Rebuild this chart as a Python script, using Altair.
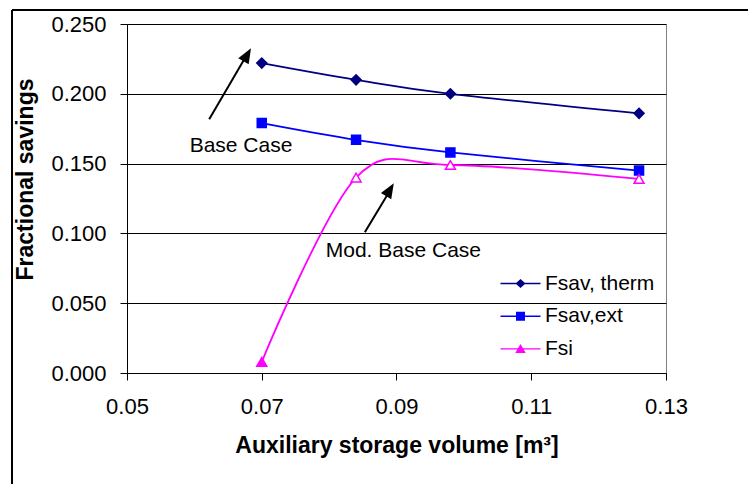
import altair as alt
import pandas as pd

# ---- data ----
x_vals = [0.07, 0.084, 0.098, 0.126]
fsav_therm = [0.222, 0.210, 0.200, 0.186]
fsav_ext = [0.179, 0.167, 0.158, 0.145]
fsi = [0.008, 0.140, 0.149, 0.139]
fsi_filled = [True, False, False, False]

series_names = ["Fsav, therm", "Fsav,ext", "Fsi"]
series_colors = ["#000080", "#0000FF", "#FF00FF"]
marker_shapes = ["diamond", "square", "triangle-up"]
marker_sizes = [100, 81, 100]

x_ticks = [0.05, 0.07, 0.09, 0.11, 0.13]
y_ticks = [0.0, 0.05, 0.10, 0.15, 0.20, 0.25]

ann_text = ["Base Case", "Mod. Base Case"]
ann_x = [0.0593, 0.0795]
ann_y = [0.1585, 0.0833]

arrow_tail_x = [0.0622, 0.0853]
arrow_tail_y = [0.1817, 0.1008]
arrow_shaft_end_x = [0.0676, 0.0889]
arrow_shaft_end_y = [0.2264, 0.1297]
arrow_tip_x = [0.0684, 0.0896]
arrow_tip_y = [0.2326, 0.1359]
arrow_angle = [30, 31]

FONT = "Liberation Sans"

# legend symbols: a line segment with the marker on it
legend_line = "M-2,-0.07L2,-0.07L2,0.07L-2,0.07Z"
legend_paths = [
    legend_line + "M-0.5,0L0,-0.45L0.5,0L0,0.45Z",
    legend_line + "M-0.45,-0.45L0.45,-0.45L0.45,0.45L-0.45,0.45Z",
    legend_line + "M0,-0.5L0.52,0.42L-0.52,0.42Z",
]
arrow_head_path = "M0,0L0.8,2L-0.8,2Z"

x_enc = alt.X(
    "x:Q",
    scale=alt.Scale(domain=[0.05, 0.13], nice=False, zero=False),
    axis=alt.Axis(
        values=x_ticks, format=".2f", title="Auxiliary storage volume [m³]",
        grid=False, tickSize=7, labelPadding=16, labelFlush=False,
        titleBaseline="alphabetic", titleX=269.5, titleY=79.5,
    ),
)
y_enc = alt.Y(
    "y:Q",
    scale=alt.Scale(domain=[0, 0.25], nice=False),
    axis=alt.Axis(
        values=y_ticks, format=".3f", title="Fractional savings",
        grid=True, gridColor="#000000", gridWidth=1, tickSize=7, labelPadding=14,
        labelFlush=False,
        titleAngle=270, titleBaseline="alphabetic", titleAlign="center",
        titleX=-95, titleY=155,
    ),
)

series_values = [fsav_therm, fsav_ext, fsi]
series_filled = [[True] * 4, [True] * 4, fsi_filled]

layers = []

# outer chart frame (decoration, pixel positions)
frame_df = pd.DataFrame({"k": [0]})
layers.append(
    alt.Chart(frame_df).mark_rule(color="#000000", strokeWidth=2).encode(
        x=alt.value(-115), y=alt.value(-14), y2=alt.value(480)
    )
)
layers.append(
    alt.Chart(frame_df).mark_rule(color="#000000", strokeWidth=2).encode(
        x=alt.value(-115), x2=alt.value(700), y=alt.value(-14)
    )
)

for name, vals, col, shp, sz, filled in zip(
    series_names, series_values, series_colors, marker_shapes, marker_sizes, series_filled
):
    df = pd.DataFrame({"x": x_vals, "y": vals, "series": name, "filled": filled})
    layers.append(
        alt.Chart(df).mark_line(color=col, strokeWidth=1.8, interpolate="cardinal").encode(
            x=x_enc, y=y_enc
        )
    )
    layers.append(
        alt.Chart(df).transform_filter("datum.filled").mark_point(
            shape=shp, size=sz, stroke=col, fill=col, strokeWidth=1.5, opacity=1, filled=True
        ).encode(x=x_enc, y=y_enc)
    )
    if not all(filled):
        layers.append(
            alt.Chart(df).transform_filter("!datum.filled").mark_point(
                shape=shp, size=sz, stroke=col, fill="#FFFFFF", strokeWidth=1.5, opacity=1,
                filled=True
            ).encode(x=x_enc, y=y_enc)
        )

# arrows
arr_df = pd.DataFrame({
    "x": arrow_tail_x, "y": arrow_tail_y,
    "x2": arrow_shaft_end_x, "y2": arrow_shaft_end_y,
})
layers.append(
    alt.Chart(arr_df).mark_rule(color="#000000", strokeWidth=2).encode(
        x=x_enc, y=y_enc, x2="x2:Q", y2="y2:Q"
    )
)
head_df = pd.DataFrame({"x": arrow_tip_x, "y": arrow_tip_y, "ang": arrow_angle})
layers.append(
    alt.Chart(head_df).mark_point(shape=arrow_head_path, size=225, filled=True,
                                  color="#000000", opacity=1, strokeWidth=0).encode(
        x=x_enc, y=y_enc, angle=alt.Angle("ang:Q", scale=None)
    )
)

# annotation texts
txt_df = pd.DataFrame({"x": ann_x, "y": ann_y, "t": ann_text})
layers.append(
    alt.Chart(txt_df).mark_text(align="left", baseline="alphabetic", font=FONT,
                                fontSize=21, color="#000000").encode(
        x=x_enc, y=y_enc, text="t:N"
    )
)

# legend-only layer (points placed outside the domain and clipped away)
leg_df = pd.DataFrame({"x": [0.2, 0.2, 0.2], "y": [0.1, 0.1, 0.1], "series": series_names})
legend_def = alt.Legend(
    title=None, orient="none", legendX=383, legendY=249, padding=0,
    symbolSize=400, rowPadding=10.7, labelOffset=14, labelFont=FONT, labelFontSize=21,
    labelColor="#000000", symbolStrokeWidth=0, symbolOpacity=1,
)
layers.append(
    alt.Chart(leg_df).mark_point(filled=True, size=400, opacity=1, clip=True).encode(
        x=x_enc, y=y_enc,
        color=alt.Color("series:N", scale=alt.Scale(domain=series_names, range=series_colors),
                        legend=legend_def),
        shape=alt.Shape("series:N", scale=alt.Scale(domain=series_names, range=legend_paths),
                        legend=legend_def),
    )
)

chart = alt.layer(*layers).properties(
    width=539, height=349,
    padding={"left": 119, "top": 16, "right": 82, "bottom": 111},
    autosize=alt.AutoSizeParams(type="none"),
    background="#FFFFFF",
).configure_view(
    stroke="#808080", strokeWidth=1, fill="#FFFFFF"
).configure_axis(
    labelFont=FONT, labelFontSize=22, labelColor="#000000",
    titleFont=FONT, titleFontSize=23, titleFontWeight="bold", titleColor="#000000",
    domainColor="#000000", domainWidth=1, tickColor="#000000", tickWidth=1,
)

chart.save("out.html", embed_options={"renderer": "svg", "actions": False})
